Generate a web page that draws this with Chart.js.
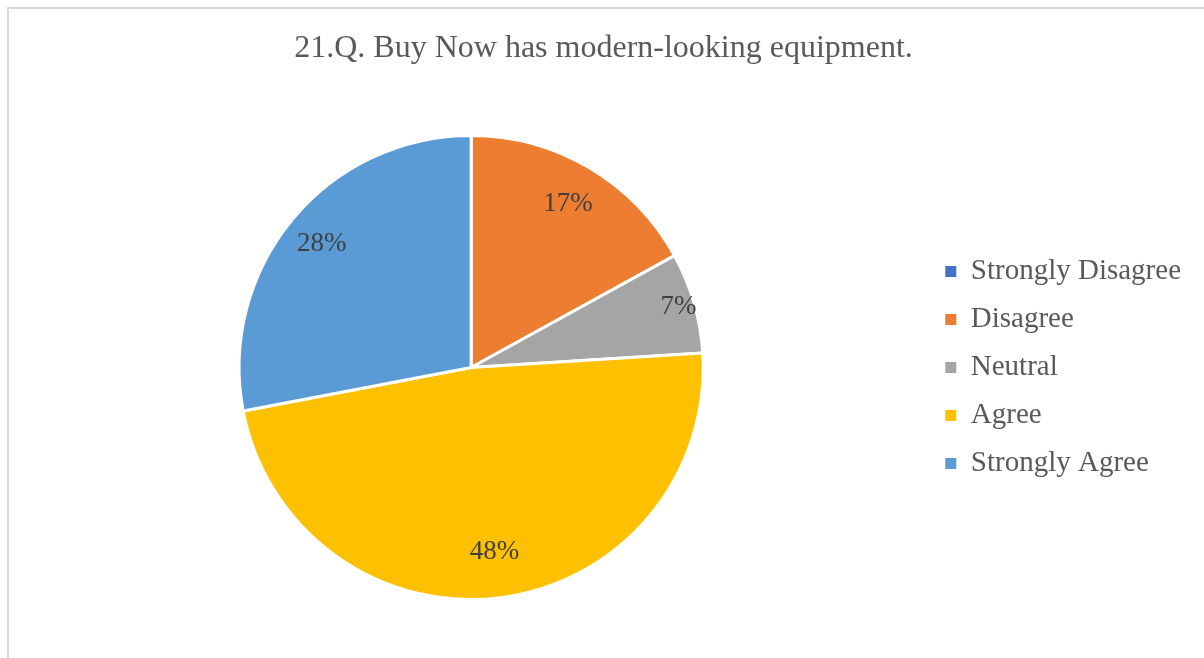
<!DOCTYPE html>
<html>
<head>
<meta charset="utf-8">
<script src="https://cdn.jsdelivr.net/npm/chart.js@4"></script>
<style>
  html, body { margin: 0; padding: 0; background: #fff; overflow: hidden; }
  #frame {
    position: absolute; left: 7px; top: 7px; width: 1400px; height: 800px;
    border-left: 2px solid #d9d9d9; border-top: 2px solid #d9d9d9;
  }
  #wrap { position: absolute; left: 0; top: 0; width: 1204px; height: 658px; }
</style>
</head>
<body>
<div id="frame"></div>
<div id="wrap"><canvas id="myChart"></canvas></div>
<script>
// survey answers for question 21, in percent
const answers = ['Strongly Disagree', 'Disagree', 'Neutral', 'Agree', 'Strongly Agree'];
const percents = [0, 17, 7, 48, 28];
const sliceColors = ['#4472C4', '#ED7D31', '#A5A5A5', '#FFC000', '#5B9BD5'];
// how far out each percent label sits, as a share of the radius
const labelRadius = [0.8, 0.82, 0.93, 0.8, 0.835];

const serif = '"Liberation Serif", "Times New Roman", serif';

// writes the percent inside each slice
const sliceLabels = {
    id: 'sliceLabels',
    afterDatasetsDraw(chart) {
        const ctx = chart.ctx;
        const meta = chart.getDatasetMeta(0);
        ctx.save();
        ctx.font = '27px ' + serif;
        ctx.fillStyle = '#404040';
        ctx.textAlign = 'center';
        ctx.textBaseline = 'middle';
        meta.data.forEach((arc, i) => {
            const v = chart.data.datasets[0].data[i];
            if (!v) return;
            const p = arc.getProps(['x', 'y', 'startAngle', 'endAngle', 'outerRadius'], true);
            const mid = (p.startAngle + p.endAngle) / 2;
            const r = p.outerRadius * labelRadius[i];
            ctx.fillText(v + '%', p.x + Math.cos(mid) * r, p.y + Math.sin(mid) * r);
        });
        ctx.restore();
    }
};

const data = {
    labels: answers,
    datasets: [{
        data: percents,
        backgroundColor: sliceColors,
        borderColor: '#ffffff',
        borderWidth: 3
    }]
};

// legend squares without the white slice outline
const defaultLabels = Chart.controllers.pie.overrides.plugins.legend.labels.generateLabels;
function legendLabels(chart) {
    return defaultLabels(chart).map(item => Object.assign(item, { lineWidth: 0, hidden: false }));
}

const config = {
    type: 'pie',
    data,
    plugins: [sliceLabels],
    options: {
        responsive: false,
        animation: false,
        layout: { padding: { left: 16, right: 13, top: 0, bottom: 57 } },
        plugins: {
            title: {
                display: true,
                text: '21.Q. Buy Now has modern-looking equipment.',
                color: '#595959',
                font: { family: serif, size: 32, weight: 'normal' },
                padding: { top: 29, bottom: 66.5 }
            },
            legend: {
                position: 'right',
                fullSize: false,
                labels: {
                    color: '#595959',
                    font: { family: serif, size: 29 },
                    boxWidth: 11,
                    boxHeight: 11,
                    padding: 19,
                    generateLabels: legendLabels
                }
            },
            tooltip: { enabled: false }
        }
    }
};

const canvas = document.querySelector('#myChart');
canvas.width = 1204;
canvas.height = 658;
const myChart = new Chart(canvas, config);
</script>
</body>
</html>
